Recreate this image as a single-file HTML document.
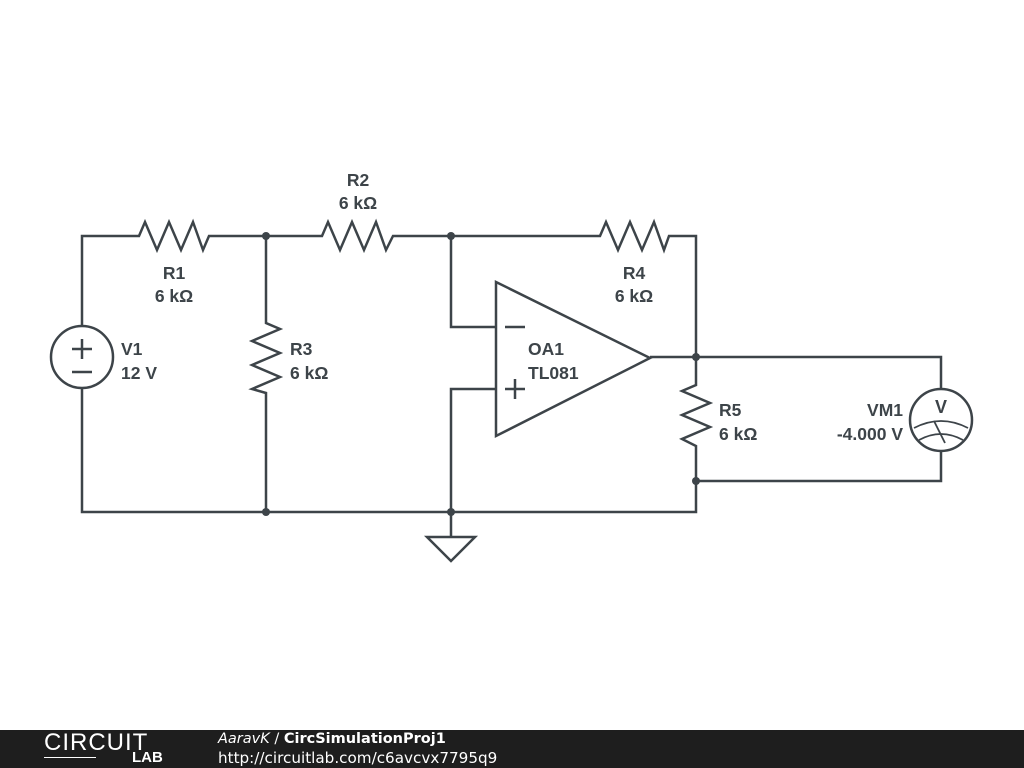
<!DOCTYPE html>
<html><head><style>
body{margin:0;width:1024px;height:768px;background:#fff;overflow:hidden;position:relative;font-family:"Liberation Sans",sans-serif}
.f{position:absolute;left:0;top:730px;width:1024px;height:38px;background:#1e1e1e;color:#fff}
</style></head><body>
<svg width="1024" height="730" style="position:absolute;left:0;top:0" font-family="Liberation Sans, sans-serif" font-weight="bold" font-size="17.5" fill="#3d4449">
<g stroke="#3d4449" stroke-width="2.5" fill="none" stroke-linejoin="miter">
<polyline points="82,326 82,236 139,236 145,222 157,250 169,222 181,250 193,222 203,250 209,236 322,236 328,222 340,250 352,222 364,250 376,222 386,250 393,236 600,236 606,222 618,250 630,222 642,250 654,222 664,250 669,236 696,236 696,385 682,391 710,403 682,415 710,427 682,439 696,446 696,512 82,512 82,388"/>
<polyline points="266,236 266,323 280,329 252,341 280,353 252,365 280,377 252,389 266,393 266,512"/>
<polyline points="451,236 451,327 496,327"/>
<polyline points="496,389 451,389 451,537"/>
<polygon points="427,537 475,537 451,561"/>
<polygon points="496,282 496,436 650,358"/>
<polyline points="650,357 941,357 941,389"/>
<polyline points="941,451 941,481 696,481"/>
<circle cx="82" cy="357" r="31"/>
<circle cx="941" cy="420" r="31"/>
<line x1="72" y1="349" x2="92" y2="349"/><line x1="82" y1="339" x2="82" y2="359"/>
<line x1="72" y1="372" x2="92" y2="372"/>
<line x1="505" y1="327" x2="525" y2="327"/>
<line x1="505" y1="389" x2="525" y2="389"/><line x1="515" y1="379" x2="515" y2="399"/>
<path d="M914 428 Q941 414 968 428" stroke-width="1.8"/>
<path d="M919 440 Q941 428 963 440" stroke-width="1.8"/>
<line x1="934" y1="421" x2="945" y2="443" stroke-width="1.8"/>
</g>
<g fill="#3d4449">
<circle cx="266" cy="236" r="4"/><circle cx="451" cy="236" r="4"/>
<circle cx="266" cy="512" r="4"/><circle cx="451" cy="512" r="4"/>
<circle cx="696" cy="357" r="4"/><circle cx="696" cy="481" r="4"/>
</g>
<text x="358" y="186" text-anchor="middle">R2</text><text x="358" y="209" text-anchor="middle">6 kΩ</text>
<text x="174" y="279" text-anchor="middle">R1</text><text x="174" y="302" text-anchor="middle">6 kΩ</text>
<text x="634" y="279" text-anchor="middle">R4</text><text x="634" y="302" text-anchor="middle">6 kΩ</text>
<text x="121" y="355">V1</text><text x="121" y="379">12 V</text>
<text x="290" y="355">R3</text><text x="290" y="379">6 kΩ</text>
<text x="528" y="355">OA1</text><text x="528" y="379">TL081</text>
<text x="719" y="416">R5</text><text x="719" y="440">6 kΩ</text>
<text x="903" y="416" text-anchor="end">VM1</text><text x="903" y="440" text-anchor="end">-4.000 V</text>
<text x="941" y="413" text-anchor="middle" font-size="18">V</text>
</svg>
<div class="f">
<div style="position:absolute;left:44px;top:1px;font-size:24px;letter-spacing:1px;font-weight:normal;line-height:24px">CIRCUIT</div>
<div style="position:absolute;left:44px;top:27px;width:52px;border-top:1.5px solid #fff"></div>
<div style="position:absolute;left:132px;top:20px;font-size:15px;font-weight:bold;line-height:16px">LAB</div>
<div style="position:absolute;left:218px;top:1px;font-size:14.5px;line-height:17px;font-family:'DejaVu Sans',sans-serif"><i>AaravK</i> / <b>CircSimulationProj1</b></div>
<div style="position:absolute;left:218px;top:19px;font-size:15.2px;line-height:18px;font-family:'DejaVu Sans',sans-serif">http://circuitlab.com/c6avcvx7795q9</div>
</div>
</body></html>
